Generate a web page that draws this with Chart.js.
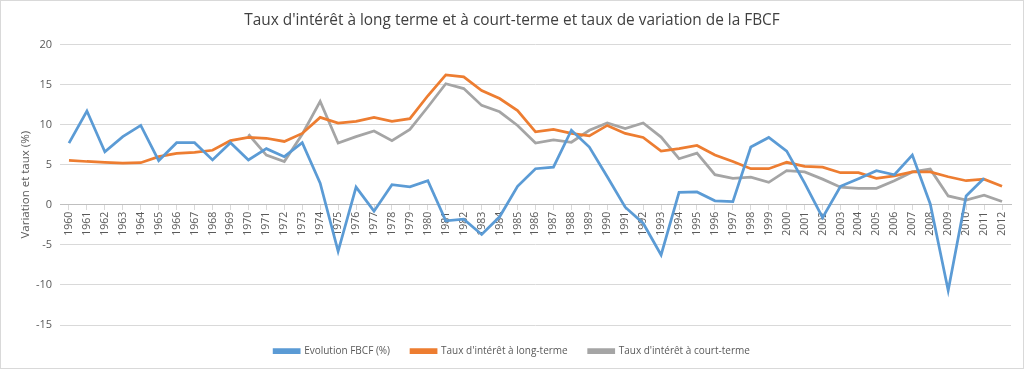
<!DOCTYPE html>
<html>
<head>
<meta charset="utf-8">
<script src="https://cdn.jsdelivr.net/npm/chart.js@4/dist/chart.umd.min.js"></script>
<style>
    html, body { margin: 0; padding: 0; background: #ffffff; }
    #wrap { position: relative; width: 1022px; height: 367px; border: 1px solid #d9d9d9; }
</style>
</head>
<body>
<div id="wrap"><canvas id="chart"></canvas></div>
<script>
const years = [];
for (let y = 1960; y <= 2012; y++) years.push(String(y));

// Evolution FBCF (%) - no value for 2012
const fbcf = [7.7, 11.7, 6.6, 8.5, 9.9, 5.5, 7.75, 7.75, 5.6, 7.75,
    5.6, 7.0, 6.0, 7.75, 2.7, -5.8, 2.2, -0.8, 2.5, 2.25,
    3.0, -2.0, -1.8, -3.7, -1.5, 2.3, 4.5, 4.7, 9.3, 7.2,
    3.5, -0.3, -2.3, -6.25, 1.55, 1.6, 0.5, 0.4, 7.2, 8.4,
    6.7, 2.7, -1.6, 2.3, 3.25, 4.25, 3.75, 6.2, 0.1, -10.7,
    1.1, 3.3, null];

const longTerm = [5.55, 5.4, 5.3, 5.2, 5.25, 6.0, 6.4, 6.55, 6.8, 8.0,
    8.4, 8.3, 7.9, 8.9, 10.9, 10.2, 10.4, 10.9, 10.4, 10.75,
    13.6, 16.2, 15.95, 14.25, 13.25, 11.75, 9.1, 9.4, 8.9, 8.6,
    9.9, 8.9, 8.4, 6.7, 7.0, 7.4, 6.2, 5.4, 4.5, 4.5,
    5.3, 4.8, 4.7, 4.0, 4.0, 3.3, 3.6, 4.1, 4.1, 3.5,
    3.0, 3.2, 2.3];

// short-term rate starts in 1970
const shortTerm = [null, null, null, null, null, null, null, null, null, null,
    8.8, 6.2, 5.4, 8.8, 12.9, 7.7, 8.5, 9.2, 8.0, 9.4,
    12.2, 15.1, 14.5, 12.4, 11.6, 9.9, 7.7, 8.1, 7.8, 9.3,
    10.2, 9.5, 10.2, 8.45, 5.75, 6.45, 3.75, 3.3, 3.45, 2.8,
    4.25, 4.1, 3.2, 2.2, 2.05, 2.05, 3.0, 4.1, 4.45, 1.1,
    0.6, 1.2, 0.4];

const FONT = "'Open Sans', 'Liberation Sans', sans-serif";
const TEXT = '#595959';
const GRID = '#d9d9d9';

function line(label, data, color) {
    return {
        label: label,
        data: data,
        borderColor: color,
        backgroundColor: color,
        borderWidth: 2.75,
        pointRadius: 0,
        tension: 0,
        spanGaps: false
    };
}

new Chart(document.getElementById('chart'), {
    type: 'line',
    data: {
        labels: years,
        datasets: [
            line('Evolution FBCF (%)', fbcf, '#5b9bd5'),
            line("Taux d'intérêt à long-terme", longTerm, '#ed7d31'),
            line("Taux d'intérêt à court-terme", shortTerm, '#a5a5a5')
        ]
    },
    options: {
        responsive: true,
        maintainAspectRatio: false,
        animation: false,
        layout: { padding: { left: 12, right: 12, top: 4, bottom: 2 } },
        plugins: {
            title: {
                display: true,
                text: "Taux d'intérêt à long terme et à court-terme et taux de variation de la FBCF",
                color: '#404040',
                font: { family: FONT, size: 15.4, weight: 'normal' },
                padding: { top: 6, bottom: 15 }
            },
            legend: {
                position: 'bottom',
                labels: {
                    color: TEXT,
                    font: { family: FONT, size: 10 },
                    boxWidth: 25,
                    boxHeight: 3,
                    padding: 21
                }
            },
            tooltip: { enabled: false }
        },
        scales: {
            x: {
                position: { y: 0 },
                offset: true,
                grid: { drawOnChartArea: false, drawTicks: true, tickLength: 5, color: GRID },
                border: { color: '#bfbfbf' },
                ticks: {
                    color: TEXT,
                    font: { family: FONT, size: 10.5 },
                    minRotation: 90,
                    maxRotation: 90,
                    autoSkip: false,
                    padding: 2
                }
            },
            y: {
                min: -15,
                max: 20,
                ticks: { stepSize: 5, color: TEXT, font: { family: FONT, size: 11 }, padding: 8 },
                grid: { color: GRID, drawTicks: false },
                border: { display: false },
                title: {
                    display: true,
                    text: 'Variation et taux (%)',
                    color: TEXT,
                    font: { family: FONT, size: 11.5 },
                    padding: 6
                },
                afterFit: (scale) => { scale.width = 47; }
            }
        }
    }
});
</script>
</body>
</html>
